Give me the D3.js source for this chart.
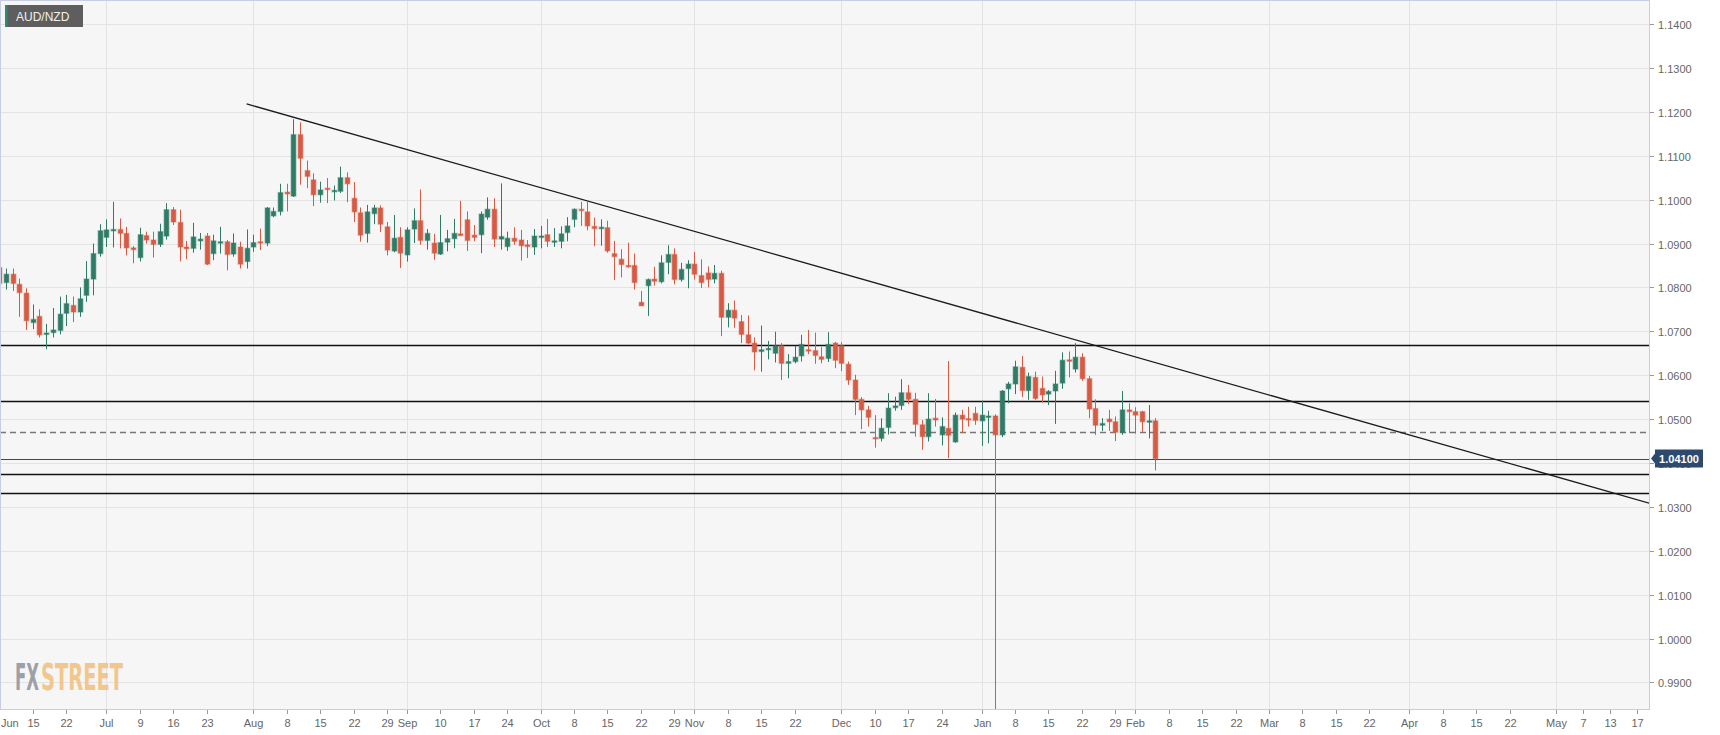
<!DOCTYPE html>
<html><head><meta charset="utf-8">
<script src="https://cdn.jsdelivr.net/npm/d3@7"></script>
<style>html,body{margin:0;padding:0;background:#fff;overflow:hidden}</style>
</head><body><svg id="c" width="1720" height="735"></svg>
<script>
// ---------------- DATA ----------------
const symbol = "AUD/NZD";
const calendarBase = "2018-06-01";      // trading-day index 0
const firstCandleDate = "2018-06-08";   // first candle (weekdays follow)
const xWindow = [5.09, 251.87];         // visible trading-day window

const opens = [
1.0845,1.0811,1.0830,1.0807,1.0787,1.0720,1.0734,1.0693,1.0697,1.0702,1.0741,1.0759,1.0744,1.0782,1.0819,1.0877,1.0914,1.0929,1.0932,1.0923,
1.0890,1.0868,1.0918,1.0908,1.0898,1.0917,1.0977,1.0948,1.0892,1.0889,1.0906,1.0917,1.0877,1.0901,1.0904,1.0876,1.0892,1.0859,1.0892,1.0904,
1.0901,1.0963,1.0973,1.1017,1.1008,1.1148,1.1066,1.1045,1.1011,1.1026,1.1018,1.1019,1.1050,1.1003,1.0970,1.0923,1.0968,1.0981,1.0938,1.0883,
1.0914,1.0874,1.0933,1.0952,1.0907,1.0901,1.0876,1.0903,1.0911,1.0922,1.0954,1.0919,1.0920,1.0960,1.0978,1.0910,1.0893,1.0912,1.0908,1.0897,
1.0892,1.0916,1.0920,1.0904,1.0905,1.0925,1.0955,1.0978,1.0972,1.0939,1.0935,1.0936,1.0877,1.0864,1.0850,1.0850,1.0766,1.0804,1.0819,1.0813,
1.0857,1.0875,1.0818,1.0843,1.0853,1.0827,1.0833,1.0819,1.0832,1.0732,1.0748,1.0722,1.0692,1.0673,1.0654,1.0658,1.0650,1.0667,1.0627,1.0631,
1.0644,1.0658,1.0656,1.0642,1.0638,1.0673,1.0667,1.0625,1.0589,1.0545,1.0521,1.0458,1.0456,1.0481,1.0526,1.0531,1.0560,1.0545,1.0487,1.0460,
1.0502,1.0464,1.0479,1.0448,1.0509,1.0501,1.0513,1.0496,1.0506,1.0507,1.0464,1.0569,1.0580,1.0618,1.0565,1.0595,1.0570,1.0557,1.0564,1.0582,
1.0635,1.0614,1.0641,1.0592,1.0524,1.0486,1.0500,1.0494,1.0470,1.0521,1.0517,1.0517,1.0493,1.0496];
const highs = [
1.0860,1.0843,1.0843,1.0820,1.0798,1.0761,1.0750,1.0717,1.0753,1.0779,1.0783,1.0779,1.0800,1.0860,1.0900,1.0944,1.0955,1.0995,1.0957,1.0938,
1.0894,1.0936,1.0927,1.0927,1.0945,1.0992,1.0983,1.0977,1.0906,1.0947,1.0924,1.0924,1.0920,1.0938,1.0908,1.0923,1.0904,1.0932,1.0920,1.0934,
1.0983,1.0982,1.1036,1.1036,1.1183,1.1176,1.1089,1.1060,1.1041,1.1049,1.1032,1.1075,1.1062,1.1040,1.0982,1.0988,1.0988,1.0987,1.0949,1.0965,
1.0937,1.0937,1.0980,1.1023,1.0933,1.0922,1.0965,1.0931,1.0956,1.0997,1.0973,1.0942,1.0973,1.1005,1.1003,1.1037,1.0927,1.0937,1.0931,1.0908,
1.0933,1.0940,1.0956,1.0935,1.0939,1.0960,1.0980,1.0995,1.0997,1.0959,1.0955,1.0952,1.0906,1.0887,1.0902,1.0877,1.0792,1.0820,1.0847,1.0873,
1.0896,1.0889,1.0856,1.0862,1.0881,1.0864,1.0848,1.0851,1.0838,1.0764,1.0770,1.0737,1.0736,1.0686,1.0713,1.0678,1.0699,1.0673,1.0648,1.0667,
1.0692,1.0703,1.0697,1.0664,1.0698,1.0676,1.0675,1.0631,1.0601,1.0550,1.0530,1.0509,1.0502,1.0559,1.0551,1.0591,1.0578,1.0560,1.0498,1.0559,
1.0546,1.0504,1.0632,1.0515,1.0521,1.0528,1.0528,1.0542,1.0519,1.0511,1.0566,1.0585,1.0633,1.0644,1.0606,1.0608,1.0597,1.0566,1.0610,1.0652,
1.0654,1.0673,1.0650,1.0598,1.0545,1.0502,1.0521,1.0506,1.0564,1.0536,1.0527,1.0519,1.0532,1.0502];
const lows = [
1.0779,1.0795,1.0792,1.0733,1.0703,1.0705,1.0686,1.0659,1.0686,1.0693,1.0712,1.0721,1.0733,1.0767,1.0782,1.0870,1.0892,1.0891,1.0889,1.0873,
1.0855,1.0859,1.0900,1.0868,1.0892,1.0909,1.0942,1.0859,1.0864,1.0879,1.0886,1.0851,1.0862,1.0877,1.0839,1.0870,1.0843,1.0843,1.0881,1.0885,
1.0894,1.0960,1.0964,1.0973,1.1006,1.1034,1.1026,1.0985,1.0993,1.0992,1.0998,1.1015,1.0994,1.0949,1.0904,1.0902,1.0944,1.0926,1.0873,1.0880,
1.0844,1.0859,1.0901,1.0897,1.0886,1.0863,1.0874,1.0882,1.0889,1.0917,1.0883,1.0905,1.0878,1.0954,1.0892,1.0886,1.0883,1.0897,1.0861,1.0867,
1.0874,1.0889,1.0892,1.0892,1.0889,1.0905,1.0937,1.0940,1.0930,1.0894,1.0895,1.0879,1.0817,1.0823,1.0845,1.0795,1.0758,1.0735,1.0804,1.0809,
1.0830,1.0807,1.0813,1.0798,1.0818,1.0799,1.0800,1.0809,1.0689,1.0709,1.0708,1.0673,1.0670,1.0611,1.0608,1.0636,1.0629,1.0589,1.0593,1.0627,
1.0631,1.0648,1.0626,1.0627,1.0630,1.0616,1.0609,1.0578,1.0509,1.0477,1.0483,1.0435,1.0449,1.0465,1.0519,1.0521,1.0534,1.0460,1.0430,1.0449,
1.0483,1.0440,1.0411,1.0446,1.0468,1.0483,1.0487,1.0439,1.0445,0.9800,1.0459,1.0536,1.0557,1.0550,1.0544,1.0544,1.0538,1.0532,1.0489,1.0569,
1.0595,1.0606,1.0587,1.0502,1.0464,1.0473,1.0473,1.0450,1.0464,1.0468,1.0467,1.0471,1.0456,1.0383];
const closes = [
1.0809,1.0830,1.0809,1.0788,1.0724,1.0727,1.0692,1.0696,1.0703,1.0739,1.0763,1.0744,1.0774,1.0819,1.0877,1.0929,1.0931,1.0932,1.0923,1.0890,
1.0886,1.0920,1.0908,1.0898,1.0927,1.0977,1.0949,1.0892,1.0888,1.0915,1.0910,1.0853,1.0906,1.0904,1.0875,1.0901,1.0853,1.0889,1.0902,1.0901,
1.0981,1.0973,1.1016,1.1013,1.1148,1.1094,1.1053,1.1011,1.1022,1.1023,1.1021,1.1050,1.1036,1.0972,1.0919,1.0972,1.0981,1.0944,1.0885,1.0912,
1.0878,1.0931,1.0952,1.0907,1.0923,1.0878,1.0902,1.0911,1.0923,1.0918,1.0907,1.0914,1.0967,1.0978,1.0910,1.0916,1.0912,1.0905,1.0895,1.0893,
1.0917,1.0917,1.0905,1.0906,1.0922,1.0940,1.0978,1.0975,1.0940,1.0934,1.0937,1.0883,1.0870,1.0852,1.0847,1.0811,1.0758,1.0818,1.0814,1.0856,
1.0875,1.0818,1.0841,1.0853,1.0830,1.0811,1.0818,1.0832,1.0732,1.0748,1.0730,1.0693,1.0673,1.0653,1.0658,1.0661,1.0667,1.0627,1.0631,1.0641,
1.0670,1.0656,1.0645,1.0636,1.0670,1.0634,1.0627,1.0589,1.0545,1.0521,1.0504,1.0456,1.0479,1.0525,1.0530,1.0560,1.0545,1.0488,1.0460,1.0500,
1.0498,1.0483,1.0463,1.0509,1.0500,1.0498,1.0497,1.0509,1.0507,1.0464,1.0564,1.0580,1.0619,1.0565,1.0597,1.0547,1.0555,1.0563,1.0580,1.0634,
1.0633,1.0641,1.0592,1.0523,1.0486,1.0490,1.0494,1.0470,1.0521,1.0517,1.0509,1.0494,1.0496,1.0410];

const solidLevels = [1.0668, 1.0541, 1.0374, 1.0331];
const dashedLevels = [1.0470];
const lastPrice = 1.04100;
const trendline = [["2018-07-31", 1.1218], ["2019-05-21", 1.0308]];
const yTicks = [0.99,1.00,1.01,1.02,1.03,1.04,1.05,1.06,1.07,1.08,1.09,1.10,1.11,1.12,1.13,1.14];
const yDomain = [0.98396, 1.14547];
const xTickLabels = [
["2018-06-01","Jun"],["2018-06-15","15"],["2018-06-22","22"],["2018-07-02","Jul"],["2018-07-09","9"],["2018-07-16","16"],["2018-07-23","23"],
["2018-08-01","Aug"],["2018-08-08","8"],["2018-08-15","15"],["2018-08-22","22"],["2018-08-29","29"],["2018-09-03","Sep"],["2018-09-10","10"],
["2018-09-17","17"],["2018-09-24","24"],["2018-10-01","Oct"],["2018-10-08","8"],["2018-10-15","15"],["2018-10-22","22"],["2018-10-29","29"],
["2018-11-01","Nov"],["2018-11-08","8"],["2018-11-15","15"],["2018-11-22","22"],["2018-12-03","Dec"],["2018-12-10","10"],["2018-12-17","17"],
["2018-12-24","24"],["2019-01-01","Jan"],["2019-01-08","8"],["2019-01-15","15"],["2019-01-22","22"],["2019-01-29","29"],["2019-02-01","Feb"],
["2019-02-08","8"],["2019-02-15","15"],["2019-02-22","22"],["2019-03-01","Mar"],["2019-03-08","8"],["2019-03-15","15"],["2019-03-22","22"],
["2019-04-01","Apr"],["2019-04-08","8"],["2019-04-15","15"],["2019-04-22","22"],["2019-05-01","May"],["2019-05-07","7"],["2019-05-13","13"],
["2019-05-17","17"]];
const monthNames = ["Jan","Feb","Mar","Apr","May","Jun","Jul","Aug","Sep","Oct","Nov","Dec"];

// ---------------- HELPERS ----------------
const parse = s => { const [y,m,d] = s.split("-").map(Number); return new Date(Date.UTC(y,m-1,d)); };
const base = parse(calendarBase);
function tradeIndex(s){
  const t = parse(s); let n = 0; const d = new Date(base);
  while (d < t){ const w = d.getUTCDay(); if (w!==0 && w!==6) n++; d.setUTCDate(d.getUTCDate()+1); }
  return n;
}
const startIdx = tradeIndex(firstCandleDate);
const candles = opens.map((o,k)=>({i:startIdx+k, o, h:highs[k], l:lows[k], c:closes[k]}));

// ---------------- LAYOUT ----------------
const W = 1720, H = 735;
const P = {left:0, top:0, right:1649, bottom:709};
const x = d3.scaleLinear().domain(xWindow).range([P.left, P.right]);
const y = d3.scaleLinear().domain(yDomain).range([P.bottom, P.top]);

const svg = d3.select("#c");
svg.append("rect").attr("width",W).attr("height",H).attr("fill","#ffffff");
svg.append("rect").attr("x",P.left).attr("y",P.top).attr("width",P.right-P.left).attr("height",P.bottom-P.top).attr("fill","#f6f6f6");

svg.append("clipPath").attr("id","clip").append("rect")
  .attr("x",P.left).attr("y",P.top).attr("width",P.right-P.left).attr("height",P.bottom-P.top);

const crisp = v => Math.round(v)+0.5;

// gridlines
const grid = svg.append("g").attr("clip-path","url(#clip)");
grid.selectAll("line.h").data(yTicks).join("line")
  .attr("x1",P.left).attr("x2",P.right).attr("y1",d=>crisp(y(d))).attr("y2",d=>crisp(y(d)))
  .attr("stroke","#e3e3e3").attr("stroke-width",1);
const monthTicks = xTickLabels.filter(d=>monthNames.includes(d[1]));
grid.selectAll("line.v").data(monthTicks).join("line")
  .attr("x1",d=>crisp(x(tradeIndex(d[0])))).attr("x2",d=>crisp(x(tradeIndex(d[0]))))
  .attr("y1",P.top).attr("y2",P.bottom).attr("stroke","#e3e3e3").attr("stroke-width",1);

// watermark
const wm = svg.append("g").attr("font-family","'Liberation Sans Narrow','DejaVu Sans Condensed','Liberation Sans',sans-serif")
  .attr("font-weight","bold").attr("font-size",37);
wm.append("text").attr("x",15).attr("y",690).attr("fill","#9ea0a8").attr("textLength",24).attr("lengthAdjust","spacingAndGlyphs").text("FX");
wm.append("text").attr("x",41).attr("y",690).attr("fill","#f2c07f").attr("fill-opacity",0.9).attr("textLength",82).attr("lengthAdjust","spacingAndGlyphs").text("STREET");

const plot = svg.append("g").attr("clip-path","url(#clip)");

// horizontal levels
plot.selectAll("line.lv").data(solidLevels).join("line")
  .attr("x1",P.left).attr("x2",P.right).attr("y1",d=>crisp(y(d))).attr("y2",d=>crisp(y(d)))
  .attr("stroke","#111").attr("stroke-width",1.3);
plot.selectAll("line.dl").data(dashedLevels).join("line")
  .attr("x1",P.left).attr("x2",P.right).attr("y1",d=>crisp(y(d))).attr("y2",d=>crisp(y(d)))
  .attr("stroke","#777").attr("stroke-width",1.6).attr("stroke-dasharray","6,4");
plot.append("line").attr("x1",P.left).attr("x2",P.right).attr("y1",crisp(y(lastPrice))).attr("y2",crisp(y(lastPrice)))
  .attr("stroke","#2f4a72").attr("stroke-width",1.2);

// trendline
plot.append("line")
  .attr("x1",x(tradeIndex(trendline[0][0]))).attr("y1",y(trendline[0][1]))
  .attr("x2",x(tradeIndex(trendline[1][0]))).attr("y2",y(trendline[1][1]))
  .attr("stroke","#1a1a1a").attr("stroke-width",1.3);

// candles
const UP = "#2e7b66", DN = "#d65a44";
const cg = plot.append("g");
cg.selectAll("line.w").data(candles).join("line")
  .attr("x1",d=>Math.round(x(d.i))+0.5).attr("x2",d=>Math.round(x(d.i))+0.5)
  .attr("y1",d=>y(d.h)).attr("y2",d=>y(d.l))
  .attr("stroke",d=>d.c>=d.o?UP:DN).attr("stroke-width",1);
cg.selectAll("rect.b").data(candles).join("rect")
  .attr("x",d=>Math.round(x(d.i))+0.5-2.3).attr("width",4.6)
  .attr("y",d=>y(Math.max(d.o,d.c))).attr("height",d=>Math.max(1.4, Math.abs(y(d.o)-y(d.c))))
  .attr("fill",d=>d.c>=d.o?UP:DN)
  .attr("stroke",d=>d.c>=d.o?UP:DN).attr("stroke-opacity",0.4).attr("stroke-width",1.4);

// frame
const frameColor = "#c9cde3";
svg.append("line").attr("x1",0.5).attr("x2",0.5).attr("y1",0).attr("y2",P.bottom).attr("stroke",frameColor);
svg.append("line").attr("x1",0).attr("x2",P.right).attr("y1",0.5).attr("y2",0.5).attr("stroke",frameColor);
svg.append("line").attr("x1",P.right+0.5).attr("x2",P.right+0.5).attr("y1",0).attr("y2",P.bottom).attr("stroke",frameColor);
svg.append("line").attr("x1",0).attr("x2",P.right+1).attr("y1",P.bottom+0.5).attr("y2",P.bottom+0.5).attr("stroke",frameColor);

// y axis
const ya = svg.append("g").attr("font-family","'Liberation Sans',Arial,sans-serif").attr("font-size",11).attr("fill","#666");
yTicks.forEach(v=>{
  const yy = crisp(y(v));
  ya.append("line").attr("x1",P.right+1).attr("x2",P.right+5).attr("y1",yy).attr("y2",yy).attr("stroke","#999");
  ya.append("text").attr("x",P.right+9).attr("y",yy+4).text(d3.format(".4f")(v));
});

// x axis
const xa = svg.append("g").attr("font-family","'Liberation Sans',Arial,sans-serif").attr("font-size",11).attr("fill","#666");
xTickLabels.forEach(([ds,lab])=>{
  let xx = crisp(x(tradeIndex(ds)));
  if (xx >= P.left && xx <= P.right) xa.append("line").attr("x1",xx).attr("x2",xx).attr("y1",P.bottom+1).attr("y2",P.bottom+5).attr("stroke","#999");
  const t = xa.append("text").attr("y",P.bottom+18).attr("text-anchor","middle").text(lab);
  const w = t.node().getComputedTextLength();
  if (xx - w/2 < P.left + 1) xx = P.left + 1 + w/2;
  t.attr("x",xx);
});

// last price label
const ly = y(lastPrice);
const lab = svg.append("g");
lab.append("path").attr("d",`M${P.right+2},${ly} L${P.right+6},${ly-5} L${P.right+6},${ly-9} L${P.right+54},${ly-9} L${P.right+54},${ly+9} L${P.right+6},${ly+9} L${P.right+6},${ly+5} Z`)
  .attr("fill","#2d4a6e");
lab.append("text").attr("x",P.right+30).attr("y",ly+4).attr("text-anchor","middle")
  .attr("font-family","'Liberation Sans',Arial,sans-serif").attr("font-size",11).attr("font-weight","bold").attr("fill","#fff")
  .text(d3.format(".5f")(lastPrice));

// symbol box
const sb = svg.append("g");
sb.append("rect").attr("x",5).attr("y",5).attr("width",78).attr("height",22).attr("fill","#5e5e5e");
sb.append("rect").attr("x",5).attr("y",5).attr("width",2.5).attr("height",22).attr("fill","#2e8b6e");
sb.append("text").attr("x",16).attr("y",20.5).attr("font-family","'Liberation Sans',Arial,sans-serif").attr("font-size",12).attr("fill","#f0f0f0").text(symbol);
</script></body></html>
